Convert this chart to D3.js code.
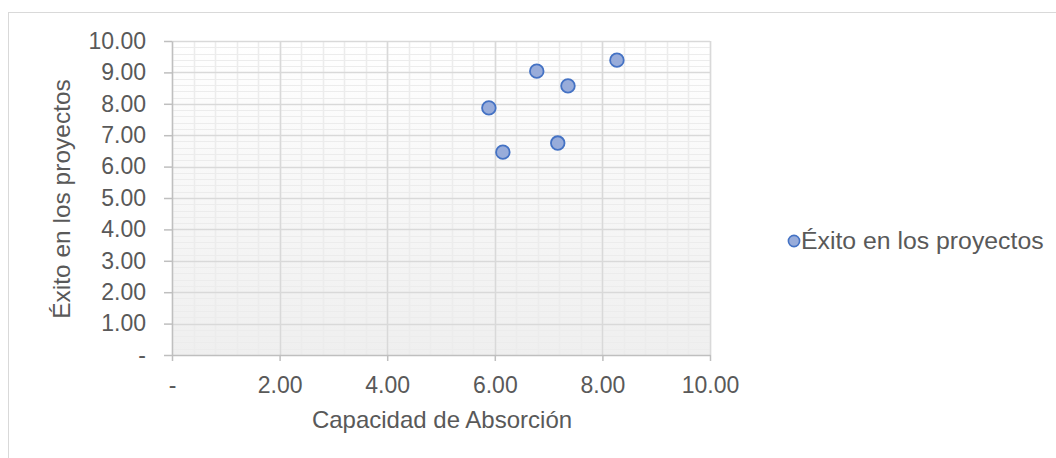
<!DOCTYPE html>
<html><head><meta charset="utf-8">
<script src="https://cdn.jsdelivr.net/npm/d3@7"></script>
<style>body{margin:0;background:#fff;}svg{display:block;font-family:"Liberation Sans",Arial,sans-serif;}</style>
</head><body>
<svg id="c" width="1056" height="458"></svg>
<script>
const xValues = [5.89, 6.15, 6.78, 7.36, 7.17, 8.27];
const yValues = [7.87, 6.46, 9.04, 8.57, 6.75, 9.39];
const seriesName = "Éxito en los proyectos";
const xTitle = "Capacidad de Absorción";
const yTitle = "Éxito en los proyectos";
const xTicks = [0, 2, 4, 6, 8, 10];
const yTicks = [0, 1, 2, 3, 4, 5, 6, 7, 8, 9, 10];

const FS = "23px";
const svg = d3.select("#c");
const W = 1056, H = 458;
const m = {l:172, r:710, t:41, b:355};
const x = d3.scaleLinear().domain([0,10]).range([m.l, m.r]);
const y = d3.scaleLinear().domain([0,10]).range([m.b, m.t]);
const fmt = v => v === 0 ? "-" : d3.format(".2f")(v);

svg.append("rect").attr("x",8.5).attr("y",12.5).attr("width",W).attr("height",H)
  .attr("fill","#fff").attr("stroke","#d9d9d9");

const defs = svg.append("defs");
const g = defs.append("linearGradient").attr("id","bg").attr("x1",0).attr("y1",0).attr("x2",0).attr("y2",1);
g.append("stop").attr("offset","0%").attr("stop-color","#ffffff");
g.append("stop").attr("offset","100%").attr("stop-color","#efefef");
svg.append("rect").attr("x",m.l).attr("y",m.t).attr("width",m.r-m.l).attr("height",m.b-m.t).attr("fill","url(#bg)");

// minor gridlines
const xMinor = d3.range(0, 10.001, 0.4);
const yMinor = d3.range(0, 10.001, 0.2);
svg.append("g").selectAll("line").data(xMinor).join("line")
  .attr("x1",d=>Math.round(x(d))+0.5).attr("x2",d=>Math.round(x(d))+0.5)
  .attr("y1",m.t).attr("y2",m.b).attr("stroke","#ececec").attr("stroke-width",1.5);
svg.append("g").selectAll("line").data(yMinor).join("line")
  .attr("y1",d=>Math.round(y(d))+0.5).attr("y2",d=>Math.round(y(d))+0.5)
  .attr("x1",m.l).attr("x2",m.r).attr("stroke","#ececec").attr("stroke-width",1.2);
// major gridlines
svg.append("g").selectAll("line").data(xTicks.slice(1)).join("line")
  .attr("x1",d=>Math.round(x(d))+0.5).attr("x2",d=>Math.round(x(d))+0.5)
  .attr("y1",m.t).attr("y2",m.b).attr("stroke","#d9d9d9").attr("stroke-width",1.5);
svg.append("g").selectAll("line").data(yTicks.slice(1)).join("line")
  .attr("y1",d=>Math.round(y(d))+0.5).attr("y2",d=>Math.round(y(d))+0.5)
  .attr("x1",m.l).attr("x2",m.r).attr("stroke","#d9d9d9").attr("stroke-width",1.5);

// axes
const xa = svg.append("g").attr("transform",`translate(0,${m.b})`)
  .call(d3.axisBottom(x).tickValues(xTicks).tickFormat(fmt).tickSizeInner(6).tickSizeOuter(0).tickPadding(16));
const ya = svg.append("g").attr("transform",`translate(${m.l},0)`)
  .call(d3.axisLeft(y).tickValues(yTicks).tickFormat(fmt).tickSizeInner(8).tickSizeOuter(0).tickPadding(18));
[xa,ya].forEach(a=>{
  a.select(".domain").attr("stroke","#bfbfbf").attr("stroke-width",1.5);
  a.selectAll(".tick line").attr("stroke","#bfbfbf").attr("stroke-width",1.5);
  a.selectAll("text").attr("fill","#595959").style("font-size",FS).style("font-family","'Liberation Sans',Arial,sans-serif");
});

// points
svg.append("g").selectAll("circle").data(xValues.map((v,i)=>[v,yValues[i]])).join("circle")
  .attr("cx",d=>x(d[0])).attr("cy",d=>y(d[1])).attr("r",6.8)
  .attr("fill","#98acda").attr("stroke","#4472c4").attr("stroke-width",1.8);

// titles
svg.append("text").attr("x",442).attr("y",428).attr("text-anchor","middle")
  .attr("fill","#595959").style("font-size","24px").text(xTitle);
svg.append("text").attr("transform",`translate(70,199) rotate(-90)`).attr("text-anchor","middle")
  .attr("fill","#595959").style("font-size","24.5px").text(yTitle);

// legend
svg.append("circle").attr("cx",794).attr("cy",241).attr("r",5.6)
  .attr("fill","#98acda").attr("stroke","#4472c4").attr("stroke-width",1.6);
svg.append("text").attr("x",801).attr("y",249).attr("fill","#595959").style("font-size","24.8px").text(seriesName);
</script>
</body></html>
